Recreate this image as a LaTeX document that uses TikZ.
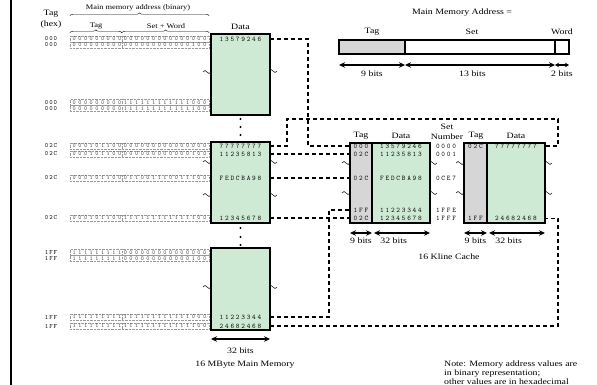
\documentclass[tikz,border=0pt]{standalone}
\usepackage{fontspec}
\setmainfont{Liberation Serif}[FakeStretch=1.2]
\newfontfamily\hexfont{lmmono10-regular}[Extension=.otf, LetterSpace=25]
\newfontfamily\bitfont{lmmono10-regular}[Extension=.otf, LetterSpace=42]
\newfontfamily\tagfont{lmmono10-regular}[Extension=.otf, LetterSpace=15]
\usepackage{tikz}
\usetikzlibrary{arrows.meta,decorations.pathreplacing,calc}
\definecolor{memgreen}{HTML}{CFEAD4}
\definecolor{taggray}{HTML}{D6D6D6}
\tikzset{
  block/.style={draw, line width=1.6pt, outer sep=0pt, inner sep=0pt},
  memblk/.style={block, fill=memgreen},
  tagblk/.style={block, fill=taggray},
  lbl/.style={font=\fontsize{8.2}{8.8}\selectfont, inner sep=0pt},
  hdr/.style={font=\fontsize{7}{7.5}\selectfont, inner sep=0pt},
  hexval/.style={font=\hexfont\fontsize{7}{7}\selectfont, inner sep=0pt},
  taghex/.style={font=\tagfont\fontsize{6.5}{6.5}\selectfont, inner sep=0pt},
  bits/.style={font=\bitfont\fontsize{6}{6}\selectfont, inner sep=0pt,
               draw=black!40, densely dotted, text=black!75,
               minimum width=139pt, minimum height=6pt},
  link/.style={line width=1.5pt, dash pattern=on 4pt off 3pt},
  bitarrow/.style={{Stealth[length=6pt,width=5.5pt]}-{Stealth[length=6pt,width=5.5pt]},
                   line width=1.2pt},
  dot/.style={circle, fill, inner sep=0pt, minimum size=2.4pt},
  brk/.pic={\draw[line width=0.5pt] (-4,0) sin (-2,-1.5) cos (0,0) sin (2,1.5) cos (4,0);}
}
\begin{document}
\begin{tikzpicture}[x=1pt,y=-1pt]
  \useasboundingbox (0,0) rectangle (597,385);
  \draw[line width=1.5pt] (11,0) -- (11,385);

  %% Address column headings
  \node[lbl] (taghead) at (51,14) {Tag};
  \node[lbl] (hexhead) at (51,25) {(hex)};
  \node[hdr] (addrhead) at (138,8) {Main memory address (binary)};
  \node[hdr] (addrtag) at (96,26) {Tag};
  \node[hdr] (addrsw) at (166,26) {Set + Word};

  %% Address rows: tag (hex) and 24-bit address
  \foreach \i/\y/\t/\b in {
      1/39/000/000000000000000000000000,
      2/45/000/000000000000000000000100,
      3/102.5/000/000000000111111111111000,
      4/108.5/000/000000000111111111111100,
      5/146/02C/000101100000000000000000,
      6/154/02C/000101100000000000000100,
      7/178/02C/000101100011001110011100,
      8/218/02C/000101100111111111111100,
      9/252.5/1FF/111111111000000000000000,
      10/258.5/1FF/111111111000000000000100,
      11/317/1FF/111111111111111111111000,
      12/326/1FF/111111111111111111111100} {
    \node[taghex] (t\i) at (51,\y) {\t};
    \node[bits] (a\i) at (139.5,\y) {\b};
    \draw[black!40, densely dotted]
      ([xshift=52pt]a\i.north west) -- ([xshift=52pt]a\i.south west);
  }

  %% Braces over the address field
  \draw[decorate, decoration={brace, amplitude=3pt}, line width=0.4pt]
    ([yshift=20pt]a1.north west) -- ([yshift=20pt]a1.north east);
  \draw[decorate, decoration={brace, amplitude=3pt}, line width=0.4pt]
    ([yshift=3pt]a1.north west) -- ([xshift=52pt,yshift=3pt]a1.north west);
  \draw[decorate, decoration={brace, amplitude=3pt}, line width=0.4pt]
    ([xshift=52pt,yshift=3pt]a1.north west) -- ([yshift=3pt]a1.north east);

  %% Main memory
  \node[lbl] (memhead) at (240.5,27) {Data};
  \node[memblk, minimum width=59pt, minimum height=81pt] (mem1) at (240.5,74.5) {};
  \node[memblk, minimum width=59pt, minimum height=81pt] (mem2) at (240.5,182.5) {};
  \node[memblk, minimum width=59pt, minimum height=82pt] (mem3) at (240.5,289) {};

  \node[hexval] (d1) at (240.5,39) {13579246};
  \node[hexval] (d5) at (240.5,146) {77777777};
  \node[hexval] (d6) at (240.5,154) {11235813};
  \node[hexval] (d7) at (240.5,178) {FEDCBA98};
  \node[hexval] (d8) at (240.5,218) {12345678};
  \node[hexval] (d11) at (240.5,317) {11223344};
  \node[hexval] (d12) at (240.5,326) {24682468};

  \foreach \y in {119,127,135,228,237,245}
    \node[dot] (dot\y) at (240.5,\y) {};

  \foreach \x/\y in {207/72,273/71,207/162,273/162,207/195,273/195,207/287,273/287}
    \pic at (\x,\y) {brk};

  \draw[bitarrow] ([yshift=-9pt]mem3.south west) -- ([yshift=-9pt]mem3.south east)
    node[lbl, midway, below=8pt] (membits) {32 bits};
  \node[lbl] (memname) at (245,365) {16 MByte Main Memory};

  %% Main memory address format
  \node[lbl] (fmthead) at (462,13) {Main Memory Address =};
  \node[tagblk, minimum width=66pt, minimum height=14pt] (ftag) at (372,47) {};
  \node[block, fill=white, minimum width=150pt, minimum height=14pt, anchor=west]
    (fset) at (ftag.east) {};
  \node[block, fill=white, minimum width=14pt, minimum height=14pt, anchor=west]
    (fword) at (fset.east) {};
  \node[lbl] (ftaglbl) at (372,32) {Tag};
  \node[lbl] (fsetlbl) at (472,32) {Set};
  \node[lbl] (fwordlbl) at (562,32) {Word};
  \draw[bitarrow] ([yshift=-11pt]ftag.south west) -- ([yshift=-11pt]ftag.south east)
    node[lbl, midway, below=5pt] (ftagbits) {9 bits};
  \draw[bitarrow] ([yshift=-11pt]fset.south west) -- ([yshift=-11pt]fset.south east)
    node[lbl, pos=0.45, below=5pt] (fsetbits) {13 bits};
  \draw[{Stealth[length=4pt,width=4.5pt]}-{Stealth[length=4pt,width=4.5pt]}, line width=1.2pt]
    ([yshift=-11pt]fword.south west) -- ([yshift=-11pt]fword.south east)
    node[lbl, midway, below=5pt] (fwordbits) {2 bits};

  %% Cache, way 0
  \node[tagblk, minimum width=22pt, minimum height=80pt] (w0tag) at (361,183) {};
  \node[memblk, minimum width=58pt, minimum height=80pt, anchor=west] (w0dat) at (w0tag.east) {};
  \node[lbl] (w0taghead) at (361,136) {Tag};
  \node[lbl] (w0dathead) at (401,136) {Data};
  \node[lbl] (sethead) at (447,127) {Set};
  \node[lbl] (numhead) at (447,137) {Number};

  \foreach \i/\y/\t/\d/\s in {1/146/000/13579246/0000, 2/154/02C/11235813/0001,
      3/178/02C/FEDCBA98/0CE7, 4/210/1FF/11223344/1FFE, 5/218.5/02C/12345678/1FFF} {
    \node[hexval] (c\i) at (361,\y) {\t};
    \node[hexval] (e\i) at (401,\y) {\d};
    \node[hexval] (s\i) at (446,\y) {\s};
  }

  %% Cache, way 1
  \node[tagblk, minimum width=23pt, minimum height=80pt] (w1tag) at (475.5,183) {};
  \node[memblk, minimum width=58pt, minimum height=80pt, anchor=west] (w1dat) at (w1tag.east) {};
  \node[lbl] (w1taghead) at (476,136) {Tag};
  \node[lbl] (w1dathead) at (516,136) {Data};
  \node[hexval] (kt1) at (475.5,146) {02C};
  \node[hexval] (k1) at (516,146) {77777777};
  \node[hexval] (kt2) at (475.5,218.5) {1FF};
  \node[hexval] (k2) at (516,218.5) {24682468};

  \foreach \x/\y in {346/163,433/163,346/193,433/193,460/163,548/163,460/193,548/193}
    \pic at (\x,\y) {brk};

  \draw[bitarrow] ([yshift=-10pt]w0tag.south west) -- ([yshift=-10pt]w0tag.south east)
    node[lbl, midway, below=4pt] (w0tagbits) {9 bits};
  \draw[bitarrow] ([xshift=2pt,yshift=-10pt]w0dat.south west) -- ([yshift=-10pt]w0dat.south east)
    node[lbl, pos=0.35, below=4pt] (w0datbits) {32 bits};
  \draw[bitarrow] ([yshift=-10pt]w1tag.south west) -- ([yshift=-10pt]w1tag.south east)
    node[lbl, midway, below=4pt] (w1tagbits) {9 bits};
  \draw[bitarrow] ([xshift=2pt,yshift=-10pt]w1dat.south west) -- ([yshift=-10pt]w1dat.south east)
    node[lbl, pos=0.35, below=4pt] (w1datbits) {32 bits};
  \node[lbl] (cachename) at (449,257) {16 Kline Cache};

  %% Mapping of memory words into the cache
  \coordinate (rightbus) at (558,119);
  \draw[link] (d1 -| mem1.east) -- ++(38,0) |- (c1 -| w0tag.west);
  \draw[link] (d5 -| mem2.east) -- ++(17,0) |- (rightbus) |- (k1 -| w1dat.east);
  \draw[link] (d6 -| mem2.east) -- (d6 -| w0tag.west);
  \draw[link] (d7 -| mem2.east) -- (d7 -| w0tag.west);
  \draw[link] (d8 -| mem2.east) -- (d8 -| w0tag.west);
  \draw[link] (d11 -| mem3.east) -- ++(59,0) |- (c4 -| w0tag.west);
  \draw[link] (d12 -| mem3.east) -- (d12 -| rightbus) |- (k2 -| w1dat.east);

  %% Note
  \node[lbl, anchor=north west, align=left] (note) at (444,361)
    {Note: Memory address values are\\in binary representation;\\other values are in hexadecimal};

\end{tikzpicture}
\end{document}
